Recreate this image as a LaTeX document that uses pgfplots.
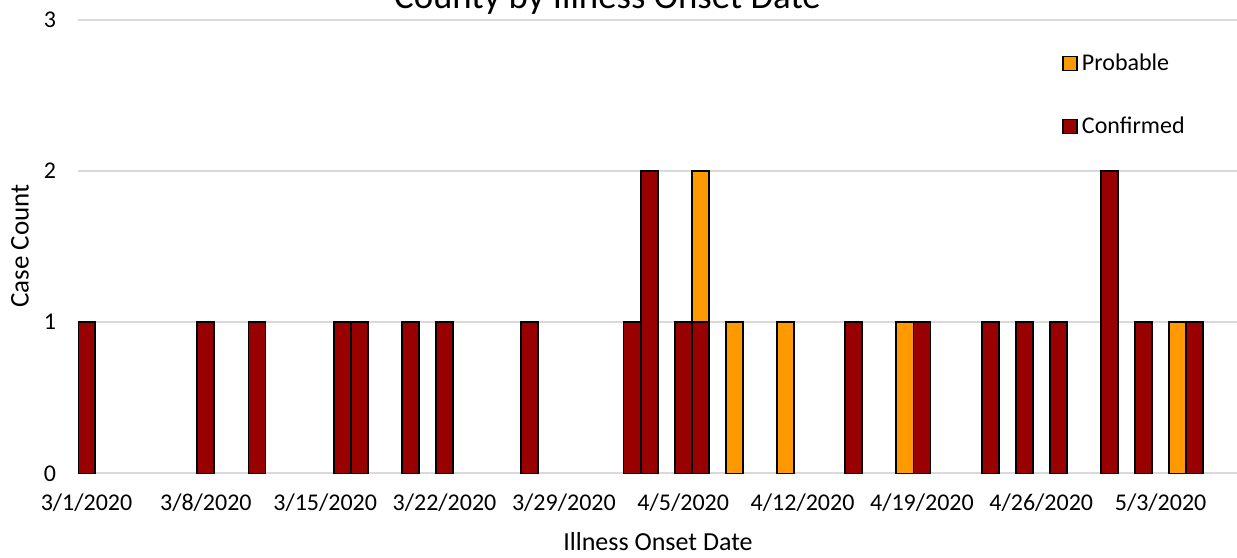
\documentclass[border=0pt]{standalone}
\usepackage{fontspec}
\setmainfont{Carlito}
\usepackage{pgfplots}
\pgfplotsset{compat=1.18}
\definecolor{conf}{HTML}{990000}
\definecolor{prob}{HTML}{FF9900}
\definecolor{gridc}{HTML}{D9D9D9}
% square legend marks
\pgfplotsset{sqleg/.style={legend image code/.code={%
  \draw[##1, line width=0.8pt] (0pt,-3.5pt) rectangle (7pt,3.5pt);}}}
\begin{document}
\begin{tikzpicture}
\useasboundingbox (0,0) rectangle (618.5pt,278.5pt);
\begin{axis}[
  at={(39pt,41.75pt)}, anchor=south west,
  scale only axis, width=579.5pt, height=227pt,
  xmin=-0.5, xmax=67.48, ymin=0, ymax=3,
  ybar stacked, bar width=1,
  axis line style={draw=none},
  major tick length=0pt,
  ytick={0,1,2,3}, ymajorgrids,
  grid style={gridc, line width=1pt},
  xtick={0,7,...,63},
  xticklabels={3/1/2020,3/8/2020,3/15/2020,3/22/2020,3/29/2020,4/5/2020,4/12/2020,4/19/2020,4/26/2020,5/3/2020},
  tick label style={font=\fontsize{12}{14}\selectfont, black},
  yticklabel style={xshift=-7.5pt},
  xticklabel style={yshift=-6.5pt},
  /pgf/number format/assume math mode=true,
  reverse legend,
  legend cell align=left,
  legend style={draw=none, fill=none, at={(0.849,0.934)}, anchor=north west,
    font=\fontsize{12}{14}\selectfont, row sep=17.5pt, inner sep=0pt,
    nodes={inner sep=2pt}},
]
% Confirmed (bottom of each stack)
\addplot[fill=conf, draw=black, line width=0.9pt, sqleg] coordinates {
(0,1) (7,1) (10,1) (15,1) (16,1) (19,1) (21,1) (26,1) (32,1) (33,2)
(35,1) (36,1) (38,0) (41,0) (45,1) (48,0) (49,1) (53,1) (55,1) (57,1)
(60,2) (62,1) (64,0) (65,1)};
\addlegendentry{Confirmed}
% Probable (stacked on top)
\addplot[fill=prob, draw=black, line width=0.9pt, sqleg] coordinates {
(0,0) (7,0) (10,0) (15,0) (16,0) (19,0) (21,0) (26,0) (32,0) (33,0)
(35,0) (36,1) (38,1) (41,1) (45,0) (48,1) (49,0) (53,0) (55,0) (57,0)
(60,0) (62,0) (64,1) (65,0)};
\addlegendentry{Probable}
\end{axis}
\node[anchor=base, font=\fontsize{18.4}{22}\selectfont] at (303.75pt,274pt) {County by Illness Onset Date};
\node[rotate=90, font=\fontsize{13.5}{16}\selectfont] at (10pt,155.5pt) {Case Count};
\node[anchor=base, font=\fontsize{13}{16}\selectfont] at (329pt,3pt) {Illness Onset Date};
\end{tikzpicture}
\end{document}
